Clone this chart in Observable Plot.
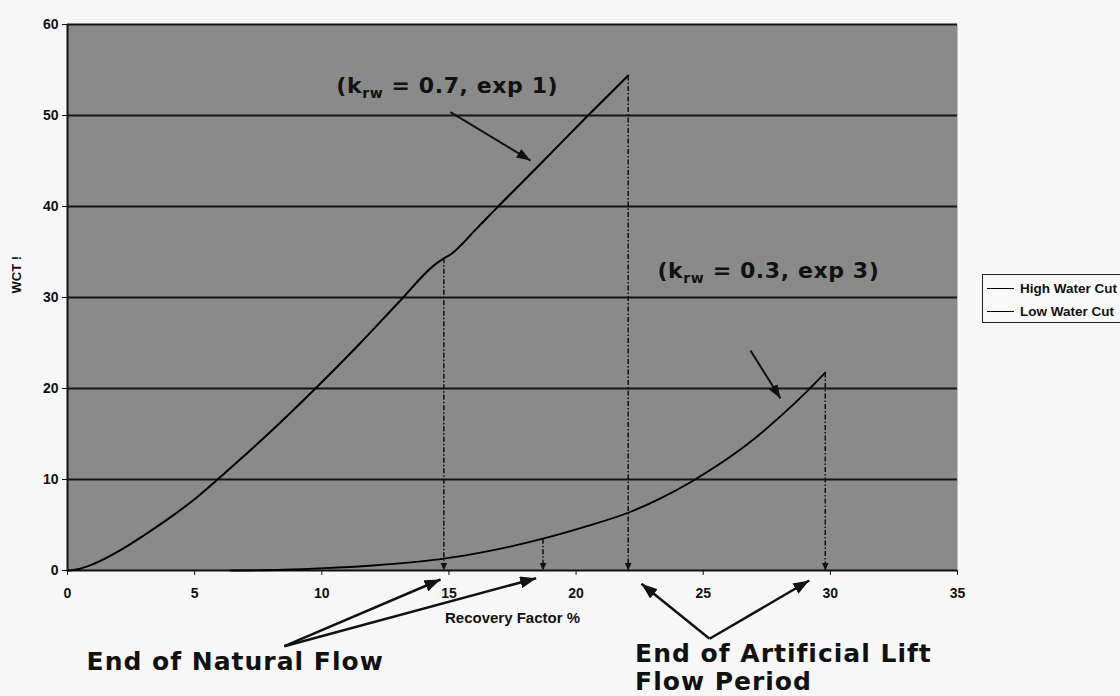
<!DOCTYPE html>
<html><head><meta charset="utf-8">
<script src="https://cdn.jsdelivr.net/npm/d3@7"></script>
<script src="https://cdn.jsdelivr.net/npm/@observablehq/plot@0.6"></script>
<style>
html,body{margin:0;padding:0;background:#f7f7f7;overflow:hidden;}
#wrap{position:relative;width:1120px;height:696px;}
#legend{position:absolute;left:982px;top:274px;width:160px;height:47px;border:1.5px solid #222;background:#f9f9f9;font-family:"Liberation Sans",Arial,sans-serif;font-weight:bold;font-size:13.5px;color:#111;}
#legend .row{position:absolute;left:4px;height:16px;display:flex;align-items:center;white-space:nowrap;}
#legend .sw{width:27px;height:0;border-top:1.5px solid #000;margin-right:6px;}
</style></head><body><div id="wrap"><div id="chart"></div><div id="legend"></div></div>
<script>
// ---- data ----
const seriesNames = ["High Water Cut", "Low Water Cut"];
const highRF  = [0, 0.5, 1.04, 2.0, 3.0, 4.0, 5.08, 5.9, 7.6, 9.75, 11.5, 13.1, 14.4, 14.8, 15.05, 16.1, 16.9, 18.5, 20.4, 22.05];
const highWCT = [0, 0.2, 0.74, 2.1, 3.85, 5.75, 8.02, 10, 14.25, 20, 24.95, 29.7, 33.5, 34.3, 34.7, 37.6, 39.9, 44.4, 49.8, 54.4];
const lowRF   = [6.4, 8.5, 10.1, 12, 13.9, 14.8, 16.5, 18.7, 20.4, 22.1, 23.3, 24.5, 25.7, 27, 28, 29.1, 29.8];
const lowWCT  = [0, 0.08, 0.25, 0.55, 1.0, 1.3, 2.1, 3.5, 4.85, 6.4, 7.9, 9.7, 11.8, 14.45, 16.85, 19.75, 21.75];
const dropRF  = [14.8, 18.7, 22.05, 29.8];
const dropWCT = [34.3, 3.5, 54.4, 21.75];
const xTicks = [0, 5, 10, 15, 20, 25, 30, 35];
const yTicks = [0, 10, 20, 30, 40, 50, 60];
const curveLabels = ["(krw = 0.7, exp 1)", "(krw = 0.3, exp 3)"];
const bottomLabels = ["End of Natural Flow", "End of Artificial Lift", "Flow Period"];

const high = highRF.map((x, i) => ({x, y: highWCT[i], s: seriesNames[0]}));
const low = lowRF.map((x, i) => ({x, y: lowWCT[i], s: seriesNames[1]}));
const drops = dropRF.map((x, i) => ({x, y: dropWCT[i]}));

function head(w, l) {
  return (color) => {
    const m = d3.create("svg:marker")
      .attr("viewBox", "0 -5 10 10")
      .attr("refX", 10).attr("refY", 0)
      .attr("markerUnits", "userSpaceOnUse")
      .attr("markerWidth", l).attr("markerHeight", w)
      .attr("preserveAspectRatio", "none")
      .attr("orient", "auto")
      .attr("fill", color).attr("stroke", "none");
    m.append("path").attr("d", "M0,-5L10,0L0,5Z");
    return m.node();
  };
}

const bold = {fontWeight: "bold", fontFamily: "DejaVu Sans", fill: "#111", textAnchor: "start"};

const chart = Plot.plot({
  width: 1120, height: 696,
  marginLeft: 67, marginRight: 163, marginTop: 24, marginBottom: 126,
  style: {background: "#f7f7f7", fontFamily: "Liberation Sans", color: "#111", overflow: "visible"},
  x: {domain: [0, 35]},
  y: {domain: [0, 60]},
  marks: [
    Plot.frame({fill: "#8a8a8a", stroke: "none"}),
    Plot.ruleY(yTicks.filter(d => d > 0), {stroke: "#141414", strokeWidth: 1.8}),
    Plot.ruleX([0], {stroke: "#111", strokeWidth: 2}),
    Plot.ruleY([0], {stroke: "#111", strokeWidth: 2}),
    Plot.axisY({ticks: yTicks, tickSize: 5, tickPadding: 4, fontSize: 14, fontWeight: "bold", label: null}),
    Plot.axisX({ticks: xTicks, tickSize: 5, tickPadding: 13, fontSize: 14, fontWeight: "bold", label: null}),
    Plot.text(["Recovery Factor %"], {frameAnchor: "bottom", dy: 52, fontSize: 15, fontWeight: "bold"}),
    Plot.text(["WCT !"], {frameAnchor: "left", dx: -51, dy: -4, rotate: -90, fontSize: 13, fontWeight: "bold"}),
    Plot.line(high, {x: "x", y: "y", curve: "monotone-x", stroke: "#000", strokeWidth: 2}),
    Plot.line(low, {x: "x", y: "y", curve: "monotone-x", stroke: "#000", strokeWidth: 1.8}),
    Plot.link(drops, {x1: "x", x2: "x", y1: "y", y2: 0, stroke: "#111", strokeWidth: 1.5, strokeDasharray: "5,2,1.5,2", markerEnd: head(7, 8)}),
    // curve annotations
    Plot.text([curveLabels[0]], {x: 10.57, y: 53.2, fontSize: 22, ...bold}),
    Plot.text([curveLabels[1]], {x: 23.2, y: 32.9, fontSize: 22, ...bold}),
    Plot.link([0], {x1: 15.06, y1: 50.36, x2: 18.21, y2: 45.05, stroke: "#111", strokeWidth: 2, markerEnd: head(10, 14)}),
    Plot.link([0], {x1: 26.86, y1: 24.18, x2: 28.04, y2: 18.9, stroke: "#111", strokeWidth: 2, markerEnd: head(10, 14)}),
    // bottom annotations
    Plot.link([0, 1], {x1: 8.53, y1: -8.32, x2: [14.67, 18.43], y2: [-0.99, -0.85], stroke: "#111", strokeWidth: 2.5, markerEnd: head(12, 16)}),
    Plot.link([0, 1], {x1: 25.25, y1: -7.5, x2: [22.57, 29.17], y2: [-1.46, -1.1], stroke: "#111", strokeWidth: 2.5, markerEnd: head(12, 16)}),
    Plot.text([bottomLabels[0]], {x: 0.75, y: -10.1, fontSize: 25, ...bold}),
    Plot.text([bottomLabels[1]], {x: 22.32, y: -9.2, fontSize: 25, ...bold}),
    Plot.text([bottomLabels[2]], {x: 22.32, y: -12.3, fontSize: 25, ...bold})
  ]
});
document.getElementById("chart").appendChild(chart);

// subscript "rw" in the curve labels, and wider tracking like the reference's Verdana
const texts = d3.select(chart).selectAll("text");
texts.filter(function() { return this.textContent.startsWith("(krw"); })
  .attr("letter-spacing", 0.6)
  .each(function() {
    const s = d3.select(this); const t = s.text(); s.text(null);
    s.append("tspan").text("(k");
    s.append("tspan").attr("font-size", 14).attr("dy", 5).text("rw");
    s.append("tspan").attr("dy", -5).text(t.slice(4));
  });
texts.filter(function() { return bottomLabels.includes(this.textContent); })
  .attr("letter-spacing", 1);

// legend
const lg = d3.select("#legend");
seriesNames.forEach((n, i) => {
  const r = lg.append("div").attr("class", "row").style("top", (5 + i * 23) + "px");
  r.append("div").attr("class", "sw");
  r.append("span").text(n);
});
</script></body></html>
